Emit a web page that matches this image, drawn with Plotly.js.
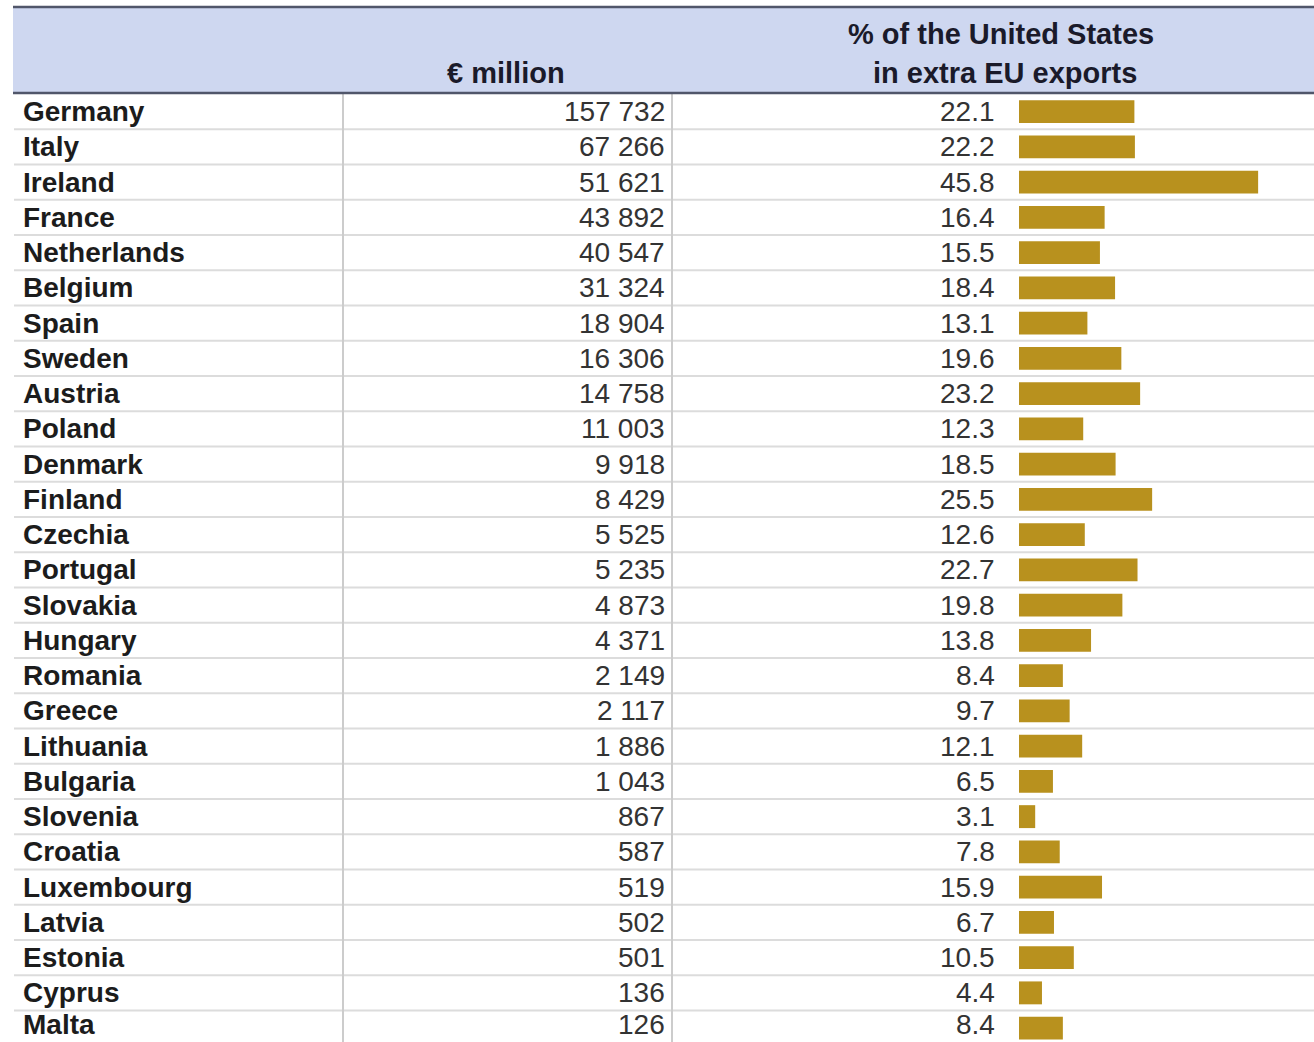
<!DOCTYPE html>
<html>
<head>
<meta charset="utf-8">
<script src="https://cdn.plot.ly/plotly-3.0.1.min.js"></script>
<style>
  html, body { margin: 0; padding: 0; background: #ffffff; }
  #chart { width: 1314px; height: 1042px; }
</style>
</head>
<body>
<div id="chart"></div>
<script>
// ---- data ----
const countries = ["Germany","Italy","Ireland","France","Netherlands","Belgium","Spain","Sweden","Austria","Poland","Denmark","Finland","Czechia","Portugal","Slovakia","Hungary","Romania","Greece","Lithuania","Bulgaria","Slovenia","Croatia","Luxembourg","Latvia","Estonia","Cyprus","Malta"];
const eurMillion = [157732,67266,51621,43892,40547,31324,18904,16306,14758,11003,9918,8429,5525,5235,4873,4371,2149,2117,1886,1043,867,587,519,502,501,136,126];
const pctUS = [22.1,22.2,45.8,16.4,15.5,18.4,13.1,19.6,23.2,12.3,18.5,25.5,12.6,22.7,19.8,13.8,8.4,9.7,12.1,6.5,3.1,7.8,15.9,6.7,10.5,4.4,8.4];
const headerMoney = "€ million";
const headerPctLine1 = "% of the United States";
const headerPctLine2 = "in extra EU exports";

// ---- geometry helpers (pixel -> paper) ----
const W = 1314, H = 1042;
const px = x => x / W;
const py = y => 1 - y / H;
const rowTop = 94, rowH = 35.25;
const yBottomIdx = -0.5 + (H - rowTop) / rowH;

function fmtThousands(n) {
  return String(n).replace(/\B(?=(\d{3})+(?!\d))/g, " ");
}

const FONT = "Liberation Sans, Arial, sans-serif";
const FS = 28;

const trace = {
  type: "bar",
  orientation: "h",
  x: pctUS,
  y: countries,
  marker: { color: "rgb(184,145,30)", line: { width: 0 } },
  hoverinfo: "skip",
  showlegend: false
};

const annotations = [];
const lastIdx = countries.length - 1;
countries.forEach((c, i) => {
  const ys = i === lastIdx ? 4 : 0;   // keep the last (partly visible) row inside the frame
  annotations.push({
    xref: "paper", yref: "y", x: px(21), y: c, xanchor: "left", yanchor: "middle", yshift: ys,
    text: c, showarrow: false,
    font: { family: FONT, size: FS, color: "#1c1c1c", weight: 700 }
  });
  annotations.push({
    xref: "paper", yref: "y", x: px(667), y: c, xanchor: "right", yanchor: "middle", yshift: ys,
    text: fmtThousands(eurMillion[i]), showarrow: false,
    font: { family: FONT, size: FS, color: "#333333" }
  });
  annotations.push({
    xref: "paper", yref: "y", x: px(997), y: c, xanchor: "right", yanchor: "middle", yshift: ys,
    text: pctUS[i].toFixed(1), showarrow: false,
    font: { family: FONT, size: FS, color: "#333333" }
  });
});
const headerFont = { family: FONT, size: 29, color: "#1a1a2a", weight: 700 };
annotations.push({
  xref: "paper", yref: "paper", x: px(506), y: py(73), xanchor: "center", yanchor: "middle",
  text: headerMoney, showarrow: false, font: headerFont
});
annotations.push({
  xref: "paper", yref: "paper", x: px(1001), y: py(34), xanchor: "center", yanchor: "middle",
  text: headerPctLine1, showarrow: false, font: headerFont
});
annotations.push({
  xref: "paper", yref: "paper", x: px(1005), y: py(73), xanchor: "center", yanchor: "middle",
  text: headerPctLine2, showarrow: false, font: headerFont
});

const shapes = [];
// header band
shapes.push({ type: "rect", xref: "paper", yref: "paper", x0: px(13), x1: 1, y0: py(93), y1: py(7),
  fillcolor: "rgb(206,215,240)", line: { width: 0 }, layer: "below" });
shapes.push({ type: "line", xref: "paper", yref: "paper", x0: px(13), x1: 1, y0: py(7), y1: py(7),
  line: { color: "#50566a", width: 2.5 } });
shapes.push({ type: "line", xref: "paper", yref: "paper", x0: px(13), x1: 1, y0: py(93), y1: py(93),
  line: { color: "#50566a", width: 2.5 } });
// row separators
for (let i = 0; i < countries.length; i++) {
  shapes.push({ type: "line", xref: "paper", yref: "y", x0: px(14), x1: 1, y0: i + 0.5, y1: i + 0.5,
    line: { color: "#dcdcdc", width: 2 }, layer: "below" });
}
// column separators
[343, 672].forEach(x => {
  shapes.push({ type: "line", xref: "paper", yref: "paper", x0: px(x), x1: px(x), y0: 0, y1: py(94),
    line: { color: "#cccccc", width: 2 }, layer: "below" });
});

const layout = {
  width: W, height: H,
  margin: { l: 0, r: 0, t: 0, b: 0, pad: 0 },
  paper_bgcolor: "#ffffff",
  plot_bgcolor: "rgba(0,0,0,0)",
  bargap: 0.35,
  xaxis: { domain: [px(1019), 1], range: [0, 56.5], visible: false, fixedrange: true },
  yaxis: { domain: [0, py(rowTop)], range: [yBottomIdx, -0.5], type: "category",
    visible: false, fixedrange: true },
  annotations: annotations,
  shapes: shapes,
  showlegend: false
};

Plotly.newPlot("chart", [trace], layout, { displayModeBar: false, staticPlot: true });
</script>
</body>
</html>
